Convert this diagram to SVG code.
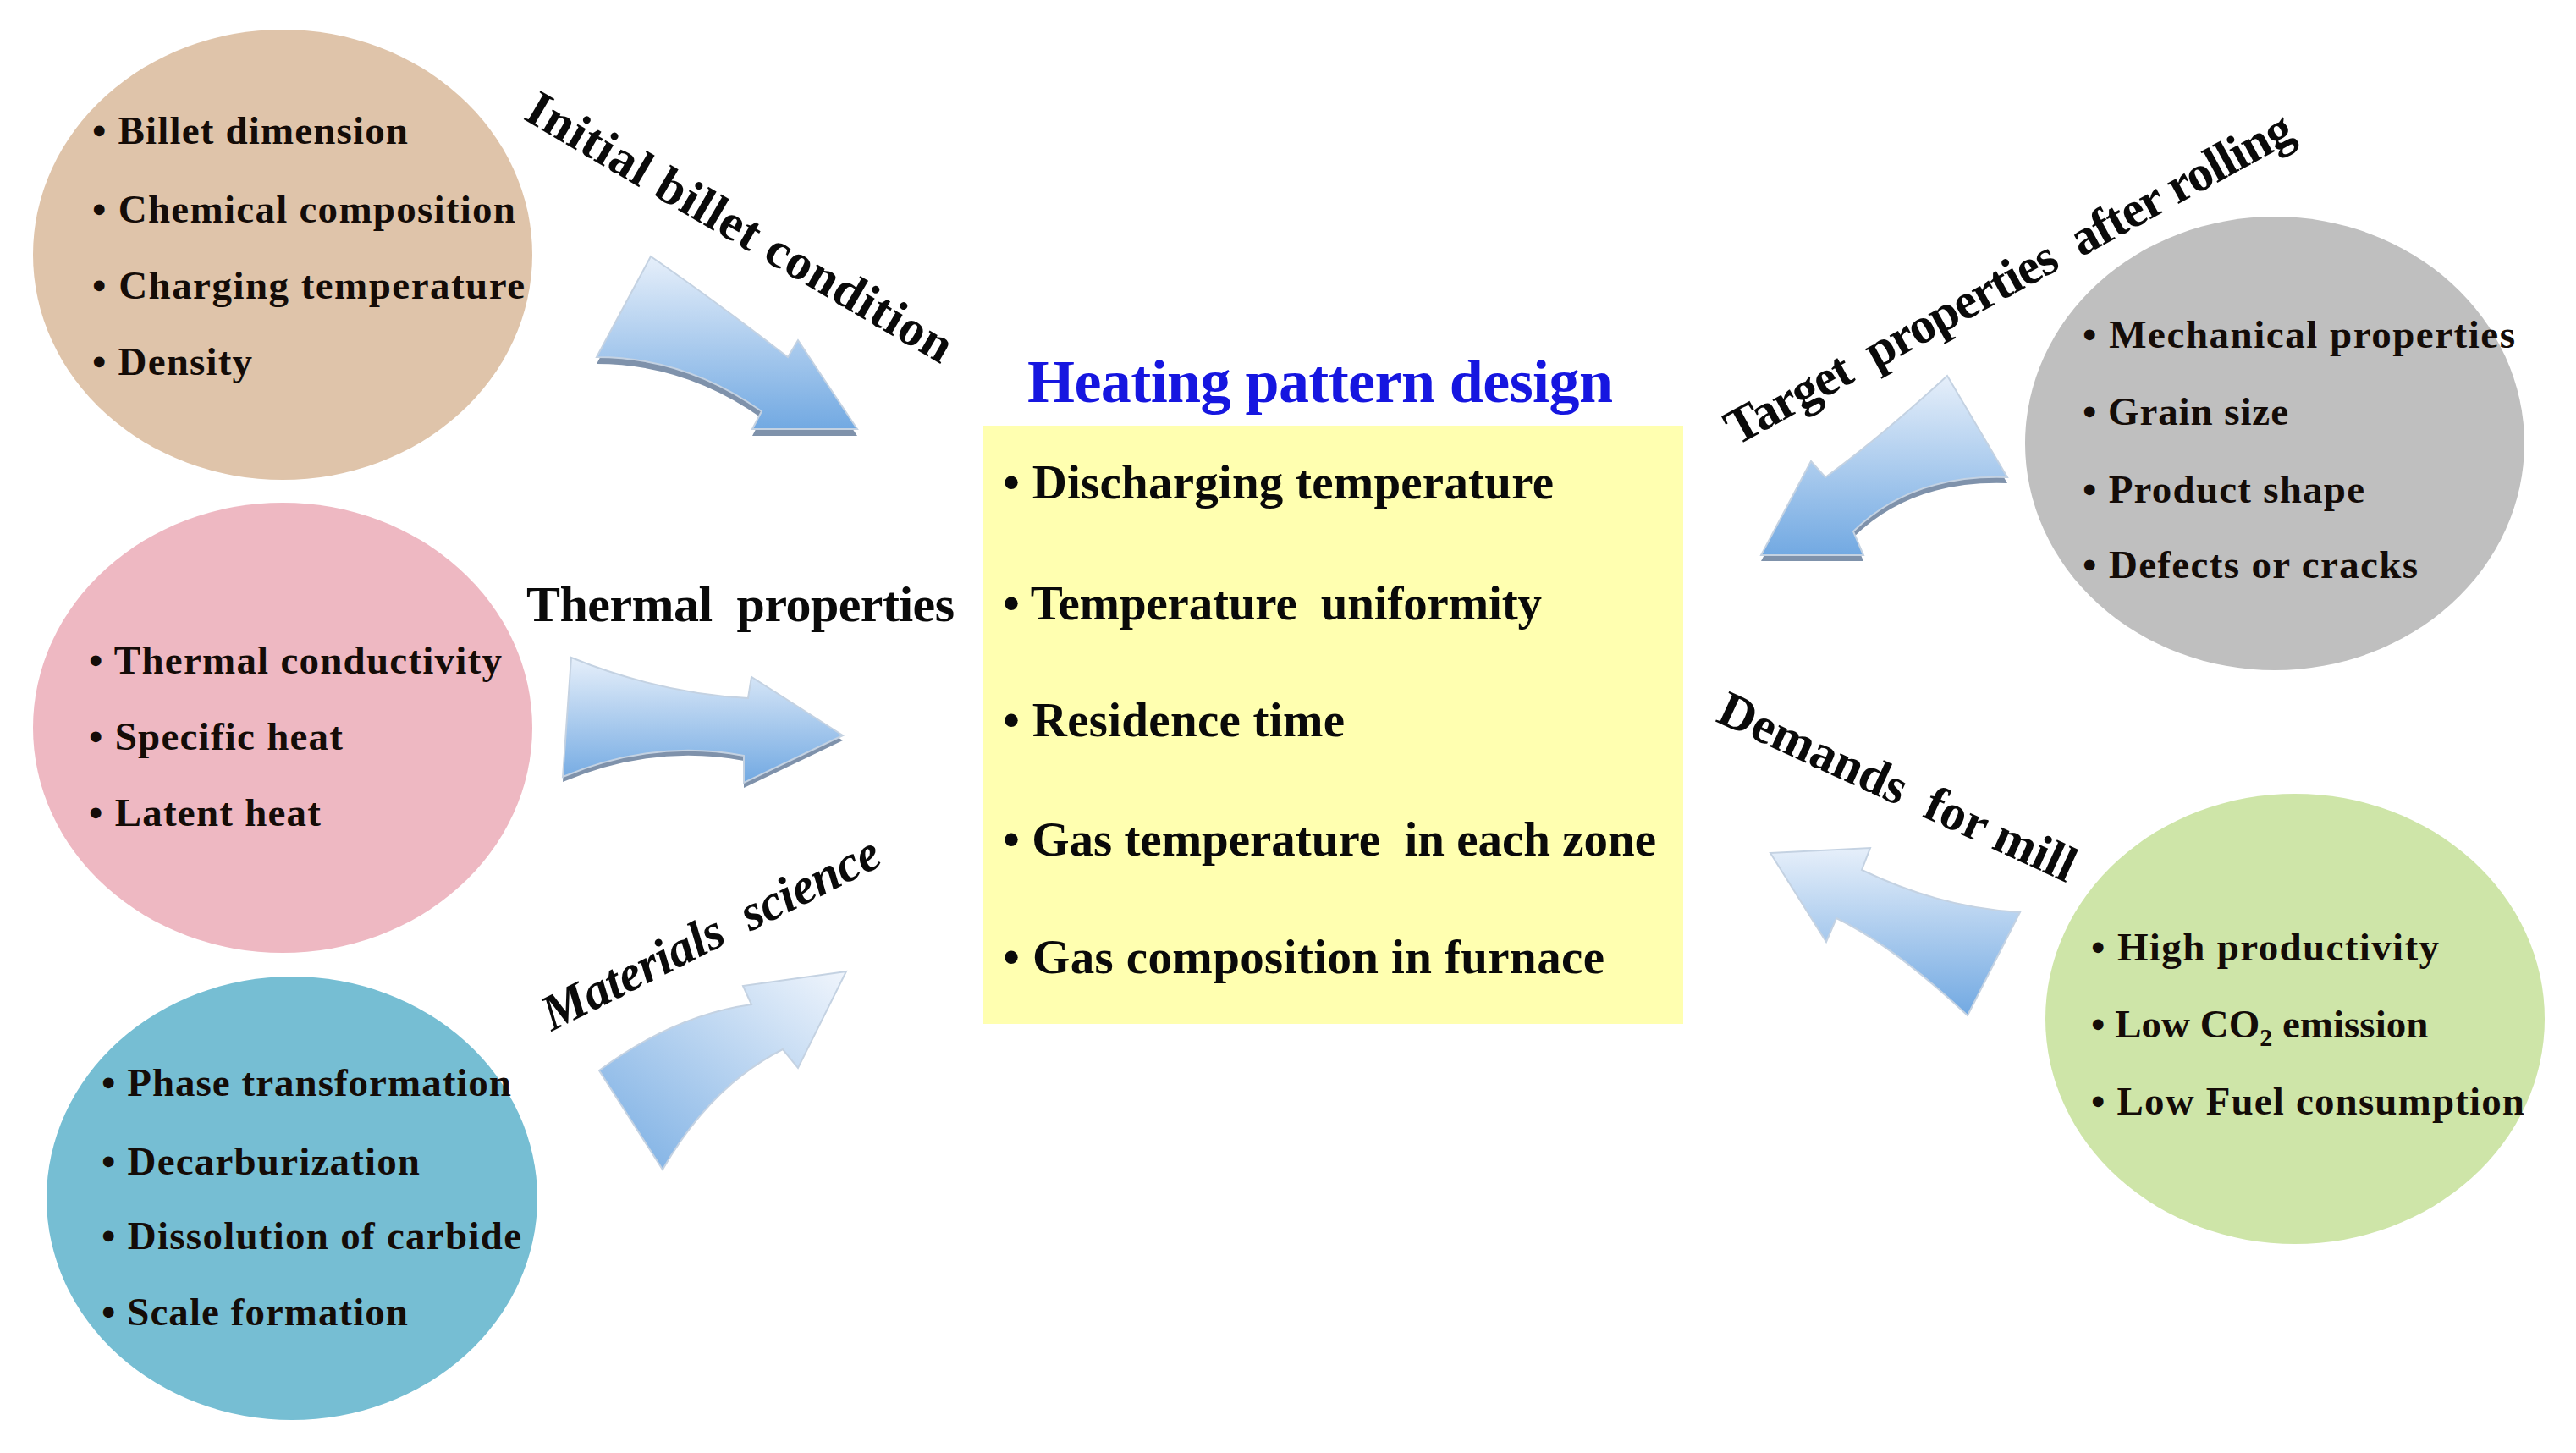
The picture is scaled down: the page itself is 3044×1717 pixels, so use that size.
<svg xmlns="http://www.w3.org/2000/svg" width="3044" height="1717" viewBox="0 0 3044 1717">
<style>
.item{font-family:"Liberation Serif","Times New Roman",serif;font-weight:bold;font-size:47px;fill:#140c08}
.box{font-family:"Liberation Serif","Times New Roman",serif;font-weight:bold;font-size:57px;fill:#0a0a0a}
.lbl{font-family:"Liberation Serif","Times New Roman",serif;font-weight:bold;font-size:60px;fill:#0a0a0a}
.title{font-family:"Liberation Serif","Times New Roman",serif;font-weight:bold;font-size:72px;fill:#1616e0}
.pre{white-space:pre}
.arrow{stroke:#c4d2e2;stroke-width:2}
.shadow{fill:#7f92ab}
</style>
<defs>
<linearGradient id="gv" x1="0" y1="0" x2="0" y2="1">
<stop offset="0" stop-color="#e6effa"/>
<stop offset="1" stop-color="#72a9e2"/>
</linearGradient>
<linearGradient id="gd" x1="1" y1="0" x2="0" y2="1">
<stop offset="0" stop-color="#f0f5fc"/>
<stop offset="1" stop-color="#78ade3"/>
</linearGradient>
</defs>
<rect width="3044" height="1717" fill="#ffffff"/>

<g id="node-initial-billet">
<ellipse cx="334" cy="301" rx="295" ry="266" fill="#dfc4aa"/>
<text class="item" x="109" y="170" textLength="373">• Billet dimension</text>
<text class="item" x="109" y="263" textLength="500">• Chemical composition</text>
<text class="item" x="109" y="353" textLength="511">• Charging temperature</text>
<text class="item" x="109" y="443" textLength="189">• Density</text>
</g>

<g id="node-thermal">
<ellipse cx="334" cy="860" rx="295" ry="266" fill="#eeb8c2"/>
<text class="item" x="105" y="796" textLength="488">• Thermal conductivity</text>
<text class="item" x="105" y="886" textLength="300">• Specific heat</text>
<text class="item" x="105" y="976" textLength="274">• Latent heat</text>
</g>

<g id="node-materials">
<ellipse cx="345" cy="1416" rx="290" ry="262" fill="#76bed3"/>
<text class="item" x="120" y="1295" textLength="484">• Phase transformation</text>
<text class="item" x="120" y="1388" textLength="376">• Decarburization</text>
<text class="item" x="120" y="1476" textLength="496">• Dissolution of carbide</text>
<text class="item" x="120" y="1566" textLength="362">• Scale formation</text>
</g>

<g id="node-heating">
<text class="title" x="1214" y="475" textLength="692">Heating pattern design</text>
<rect x="1161" y="503" width="828" height="707" fill="#ffffb0"/>
<text class="box" x="1185" y="589" textLength="651">• Discharging temperature</text>
<text class="box pre" x="1185" y="732" textLength="637">• Temperature  uniformity</text>
<text class="box" x="1185" y="870" textLength="404">• Residence time</text>
<text class="box pre" x="1185" y="1011" textLength="772">• Gas temperature  in each zone</text>
<text class="box" x="1185" y="1150" textLength="711">• Gas composition in furnace</text>
</g>

<g id="node-target">
<ellipse cx="2688" cy="524" rx="295" ry="268" fill="#bfbfbf"/>
<text class="item" x="2461" y="411" textLength="511">• Mechanical properties</text>
<text class="item" x="2461" y="502" textLength="243">• Grain size</text>
<text class="item" x="2461" y="594" textLength="333">• Product shape</text>
<text class="item" x="2461" y="683" textLength="396">• Defects or cracks</text>
</g>

<g id="node-demands">
<ellipse cx="2712" cy="1204" rx="295" ry="266" fill="#cee5a8"/>
<text class="item" x="2471" y="1135" textLength="411">• High productivity</text>
<text class="item" x="2471" y="1226">• Low CO<tspan font-size="30" dy="10">2</tspan><tspan dy="-10"> emission</tspan></text>
<text class="item" x="2471" y="1317" textLength="512">• Low Fuel consumption</text>
</g>

<g id="connectors">
<g id="arrow-initial">
<path class="shadow" transform="translate(0,8)" d="M769,303 Q840,352 931,422 L943,402 L1013,507 L889,507 L900,486 Q810,422 705,422 Z"/>
<path class="arrow" fill="url(#gv)" d="M769,303 Q840,352 931,422 L943,402 L1013,507 L889,507 L900,486 Q810,422 705,422 Z"/>
<text class="lbl" font-size="62" transform="translate(617,140) rotate(30.4)" textLength="574">Initial billet condition</text>
</g>
<g id="arrow-thermal">
<path class="shadow" transform="translate(0,6)" d="M675,777 Q778,819 884,825 L888,800 L996,869 L879,925 L879,893 Q772,873 665,918 Z"/>
<path class="arrow" fill="url(#gv)" d="M675,777 Q778,819 884,825 L888,800 L996,869 L879,925 L879,893 Q772,873 665,918 Z"/>
<text class="lbl pre" x="622" y="734" textLength="506">Thermal  properties</text>
</g>
<g id="arrow-materials">
<path class="arrow" fill="url(#gd)" d="M1000,1148 L878,1165 L888,1187 Q796,1200 708,1265 L783,1382 Q840,1283 925,1240 L943,1262 Z"/>
<text class="lbl pre" font-size="59" font-style="italic" transform="translate(652,1219) rotate(-26.7)" textLength="440">Materials  science</text>
</g>
<g id="arrow-target">
<path class="shadow" transform="translate(0,7)" d="M2301,444 Q2223,516 2157,564 L2140,545 L2081,656 L2202,656 L2190,628 Q2259,560 2372,564 Z"/>
<path class="arrow" fill="url(#gv)" d="M2301,444 Q2223,516 2157,564 L2140,545 L2081,656 L2202,656 L2190,628 Q2259,560 2372,564 Z"/>
<text class="lbl pre" font-size="58" transform="translate(2052,527) rotate(-28.7)" textLength="755">Target  properties  after rolling</text>
</g>
<g id="arrow-demands">
<path class="arrow" fill="url(#gv)" d="M2092,1008 L2210,1002 L2200,1028 Q2293,1073 2387,1078 L2325,1200 Q2238,1118 2170,1085 L2158,1113 Z"/>
<text class="lbl pre" transform="translate(2026,852) rotate(24.7)" textLength="458">Demands  for mill</text>
</g>
</g>
</svg>
